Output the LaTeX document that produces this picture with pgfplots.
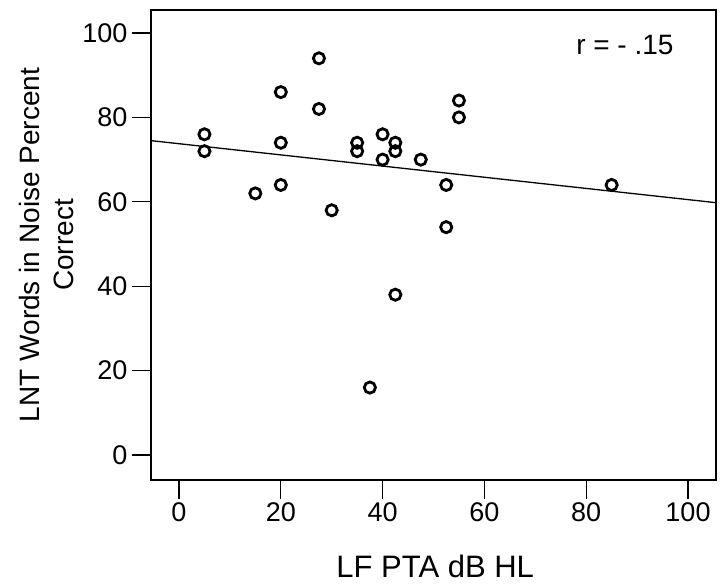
\documentclass[border=0pt]{standalone}
\usepackage{pgfplots}
\pgfplotsset{compat=1.18}
\usepackage{fontspec}
\setmainfont{Liberation Sans}
\begin{document}
\begin{tikzpicture}
\path[use as bounding box] (-151bp,-108bp) rectangle (575bp,480bp);
\begin{axis}[
  scale only axis,
  width=565bp, height=470bp,
  xmin=-5.5, xmax=105.5,
  ymin=-5.9, ymax=105.45,
  xtick={0,20,...,100}, ytick={0,20,...,100},
  tick align=outside,
  major tick length=19bp,
  tick style={black, line width=1.3bp},
  axis line style={line width=1.1bp},
  xtick pos=bottom, ytick pos=left,
  /pgf/number format/assume math mode=true,
  ticklabel style={font=\fontsize{27bp}{30bp}\selectfont},
  xlabel={LF PTA dB HL},
  xlabel style={font=\fontsize{31bp}{35bp}\selectfont, at={(axis description cs:0.503,0)}, anchor=north, yshift=-72bp},
  ylabel={LNT Words in Noise Percent\\Correct},
  ylabel style={font=\fontsize{28bp}{34bp}\selectfont, align=center, at={(axis description cs:-0.185,0.5)}, anchor=center},
  yticklabel style={xshift=-1bp},
  clip=false,
]
\addplot[black, line width=1.3bp] coordinates {(-5.5,74.5) (105.5,59.8)};
\addplot[only marks, mark=o, mark size=5.6bp, mark options={line width=2.8bp, black}] coordinates {
(5,76) (5,72) (15,62) (20,86) (20,74) (20,64) (27.5,94) (27.5,82) (30,58)
(35,74) (35,72) (37.5,16) (40,76) (40,70) (42.5,74) (42.5,72) (42.5,38)
(47.5,70) (52.5,64) (52.5,54) (55,84) (55,80) (85,64)};
\node[anchor=center, font=\fontsize{28bp}{32bp}\selectfont] at (axis cs:87.6,97.2) {r = - .15};
\end{axis}
\end{tikzpicture}
\end{document}
